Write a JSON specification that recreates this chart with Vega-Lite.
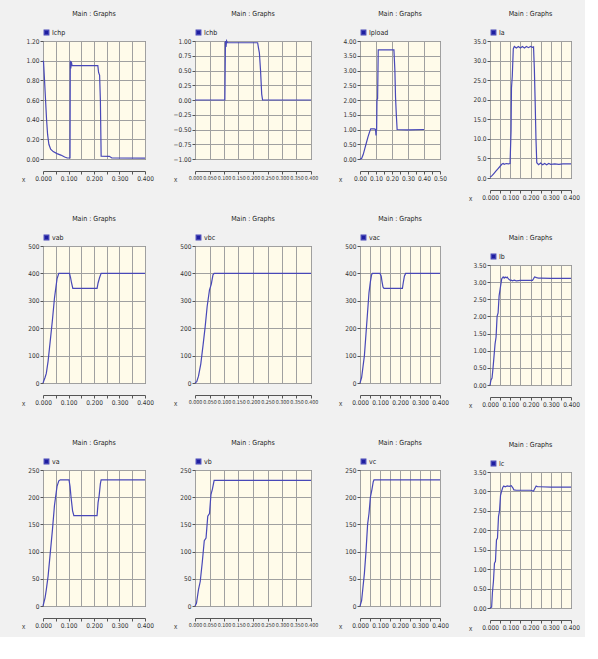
{
  "$schema": "https://vega.github.io/schema/vega-lite/v6.json",
  "background": "#f1f1f1",
  "padding": {"left": 20, "top": 9, "right": 5, "bottom": 5},
  "datasets": {
    "d11": [{"t":0,"v":1.0},{"t":0.002,"v":0.99},{"t":0.006,"v":0.8},{"t":0.010,"v":0.6},{"t":0.014,"v":0.4},{"t":0.018,"v":0.25},{"t":0.023,"v":0.15},{"t":0.03,"v":0.1},{"t":0.04,"v":0.075},{"t":0.055,"v":0.055},{"t":0.07,"v":0.04},{"t":0.085,"v":0.02},{"t":0.095,"v":0.01},{"t":0.106,"v":0.01},{"t":0.107,"v":1.0},{"t":0.109,"v":0.92},{"t":0.111,"v":0.99},{"t":0.114,"v":0.95},{"t":0.118,"v":0.95},{"t":0.215,"v":0.95},{"t":0.218,"v":0.88},{"t":0.222,"v":0.85},{"t":0.225,"v":0.6},{"t":0.228,"v":0.03},{"t":0.26,"v":0.027},{"t":0.27,"v":0.01},{"t":0.4,"v":0.008}],
    "d12": [{"t":0,"v":0},{"t":0.103,"v":0},{"t":0.105,"v":1.0},{"t":0.107,"v":0.9},{"t":0.109,"v":1.0},{"t":0.112,"v":0.97},{"t":0.216,"v":0.97},{"t":0.219,"v":0.88},{"t":0.222,"v":0.8},{"t":0.226,"v":0.5},{"t":0.230,"v":0.1},{"t":0.233,"v":0},{"t":0.4,"v":0}],
    "d13": [{"t":0,"v":0},{"t":0.01,"v":0.02},{"t":0.02,"v":0.15},{"t":0.03,"v":0.35},{"t":0.04,"v":0.55},{"t":0.05,"v":0.75},{"t":0.06,"v":0.92},{"t":0.067,"v":1.02},{"t":0.09,"v":1.02},{"t":0.097,"v":1.0},{"t":0.100,"v":0.8},{"t":0.102,"v":1.0},{"t":0.104,"v":1.0},{"t":0.106,"v":2.0},{"t":0.110,"v":2.05},{"t":0.114,"v":3.7},{"t":0.212,"v":3.7},{"t":0.218,"v":3.0},{"t":0.222,"v":2.1},{"t":0.227,"v":1.5},{"t":0.232,"v":1.0},{"t":0.3,"v":0.99},{"t":0.4,"v":1.0}],
    "d14": [{"t":0,"v":0.2},{"t":0.01,"v":0.6},{"t":0.02,"v":1.2},{"t":0.03,"v":1.8},{"t":0.04,"v":2.4},{"t":0.05,"v":3.0},{"t":0.058,"v":3.5},{"t":0.065,"v":3.7},{"t":0.07,"v":3.5},{"t":0.08,"v":3.7},{"t":0.09,"v":3.6},{"t":0.099,"v":3.7},{"t":0.104,"v":12},{"t":0.106,"v":23},{"t":0.110,"v":26},{"t":0.115,"v":33},{"t":0.12,"v":33.6},{"t":0.13,"v":33.2},{"t":0.14,"v":33.6},{"t":0.15,"v":33.2},{"t":0.16,"v":33.6},{"t":0.17,"v":33.2},{"t":0.18,"v":33.6},{"t":0.19,"v":33.3},{"t":0.2,"v":33.6},{"t":0.21,"v":33.4},{"t":0.215,"v":33.5},{"t":0.219,"v":28},{"t":0.223,"v":19.5},{"t":0.227,"v":10},{"t":0.231,"v":3.9},{"t":0.24,"v":3.4},{"t":0.25,"v":3.8},{"t":0.26,"v":3.4},{"t":0.27,"v":3.7},{"t":0.28,"v":3.4},{"t":0.29,"v":3.7},{"t":0.3,"v":3.5},{"t":0.32,"v":3.6},{"t":0.34,"v":3.5},{"t":0.36,"v":3.6},{"t":0.38,"v":3.6},{"t":0.4,"v":3.6}],
    "d21": [{"t":0,"v":0},{"t":0.008,"v":20},{"t":0.013,"v":35},{"t":0.02,"v":80},{"t":0.028,"v":150},{"t":0.037,"v":230},{"t":0.045,"v":310},{"t":0.055,"v":380},{"t":0.062,"v":400},{"t":0.104,"v":400},{"t":0.108,"v":385},{"t":0.112,"v":365},{"t":0.117,"v":345},{"t":0.212,"v":345},{"t":0.216,"v":365},{"t":0.222,"v":385},{"t":0.228,"v":400},{"t":0.4,"v":400}],
    "d22": [{"t":0,"v":0},{"t":0.006,"v":5},{"t":0.012,"v":25},{"t":0.02,"v":70},{"t":0.028,"v":140},{"t":0.035,"v":205},{"t":0.042,"v":280},{"t":0.05,"v":340},{"t":0.056,"v":360},{"t":0.062,"v":395},{"t":0.066,"v":400},{"t":0.4,"v":400}],
    "d23": [{"t":0,"v":0},{"t":0.008,"v":20},{"t":0.015,"v":60},{"t":0.022,"v":100},{"t":0.03,"v":180},{"t":0.038,"v":260},{"t":0.045,"v":330},{"t":0.052,"v":370},{"t":0.058,"v":395},{"t":0.062,"v":400},{"t":0.1,"v":400},{"t":0.106,"v":390},{"t":0.11,"v":370},{"t":0.115,"v":350},{"t":0.12,"v":345},{"t":0.212,"v":345},{"t":0.216,"v":365},{"t":0.222,"v":390},{"t":0.228,"v":400},{"t":0.4,"v":400}],
    "d24": [{"t":0,"v":0},{"t":0.005,"v":0.15},{"t":0.01,"v":0.2},{"t":0.015,"v":0.5},{"t":0.02,"v":0.85},{"t":0.025,"v":1.2},{"t":0.03,"v":1.4},{"t":0.035,"v":2.0},{"t":0.04,"v":2.1},{"t":0.045,"v":2.6},{"t":0.05,"v":2.8},{"t":0.058,"v":3.1},{"t":0.065,"v":3.15},{"t":0.07,"v":3.12},{"t":0.075,"v":3.15},{"t":0.08,"v":3.13},{"t":0.085,"v":3.15},{"t":0.09,"v":3.1},{"t":0.1,"v":3.05},{"t":0.105,"v":3.06},{"t":0.11,"v":3.04},{"t":0.12,"v":3.06},{"t":0.13,"v":3.04},{"t":0.15,"v":3.05},{"t":0.18,"v":3.05},{"t":0.21,"v":3.05},{"t":0.215,"v":3.1},{"t":0.22,"v":3.15},{"t":0.23,"v":3.13},{"t":0.24,"v":3.12},{"t":0.25,"v":3.12},{"t":0.3,"v":3.11},{"t":0.4,"v":3.11}],
    "d31": [{"t":0,"v":0},{"t":0.008,"v":15},{"t":0.013,"v":30},{"t":0.02,"v":55},{"t":0.028,"v":95},{"t":0.037,"v":140},{"t":0.045,"v":185},{"t":0.055,"v":220},{"t":0.062,"v":230},{"t":0.068,"v":232},{"t":0.102,"v":232},{"t":0.106,"v":220},{"t":0.11,"v":200},{"t":0.116,"v":175},{"t":0.121,"v":166},{"t":0.212,"v":166},{"t":0.216,"v":190},{"t":0.22,"v":202},{"t":0.225,"v":225},{"t":0.228,"v":232},{"t":0.4,"v":232}],
    "d32": [{"t":0,"v":0},{"t":0.005,"v":5},{"t":0.012,"v":30},{"t":0.018,"v":45},{"t":0.025,"v":80},{"t":0.032,"v":120},{"t":0.038,"v":125},{"t":0.044,"v":165},{"t":0.05,"v":170},{"t":0.055,"v":205},{"t":0.06,"v":215},{"t":0.066,"v":231},{"t":0.4,"v":231}],
    "d33": [{"t":0,"v":0},{"t":0.008,"v":10},{"t":0.015,"v":35},{"t":0.022,"v":60},{"t":0.03,"v":100},{"t":0.038,"v":150},{"t":0.045,"v":170},{"t":0.052,"v":200},{"t":0.06,"v":215},{"t":0.066,"v":228},{"t":0.07,"v":232},{"t":0.4,"v":232}],
    "d34": [{"t":0,"v":0},{"t":0.008,"v":0.02},{"t":0.012,"v":0.4},{"t":0.017,"v":0.69},{"t":0.022,"v":1.15},{"t":0.027,"v":1.2},{"t":0.032,"v":1.75},{"t":0.037,"v":1.8},{"t":0.042,"v":2.35},{"t":0.047,"v":2.5},{"t":0.052,"v":2.9},{"t":0.057,"v":3.0},{"t":0.063,"v":3.1},{"t":0.068,"v":3.14},{"t":0.075,"v":3.12},{"t":0.085,"v":3.14},{"t":0.095,"v":3.13},{"t":0.105,"v":3.15},{"t":0.112,"v":3.1},{"t":0.118,"v":3.04},{"t":0.13,"v":3.03},{"t":0.16,"v":3.03},{"t":0.2,"v":3.03},{"t":0.215,"v":3.01},{"t":0.222,"v":3.08},{"t":0.228,"v":3.14},{"t":0.235,"v":3.12},{"t":0.245,"v":3.12},{"t":0.3,"v":3.11},{"t":0.4,"v":3.11}]
  },
  "spacing": 18,
  "resolve": {"scale": {"color": "independent"}},
  "hconcat": [
    {
      "bounds": "flush", "spacing": 87,
      "resolve": {"scale": {"color": "independent"}},
      "vconcat": [
        {"width": 102, "height": 118, "title": "Main : Graphs", "data": {"name": "d11"}, "resolve": {"axis": {"x": "independent"}},
         "layer": [
          {"mark": {"type": "line", "strokeOpacity": 0},
           "encoding": {
             "x": {"field": "t", "type": "quantitative", "scale": {"domain": [0, 0.4], "nice": false, "zero": false}, "axis": {"orient": "bottom", "offset": 0, "title": null, "grid": true, "labels": false, "ticks": false, "domain": false, "values": [0,0.05,0.1,0.15,0.2,0.25,0.3,0.35,0.4]}},
             "y": {"field": "v", "type": "quantitative", "scale": {"domain": [0, 1.2], "nice": false, "zero": false}, "axis": {"grid": true, "values": [0,0.2,0.4,0.6,0.8,1.0,1.2], "format": ".2f"}}}},
          {"mark": {"type": "line"},
           "encoding": {
             "x": {"field": "t", "type": "quantitative", "scale": {"domain": [0, 0.4], "nice": false, "zero": false}, "axis": {"orient": "bottom", "title": "x", "grid": false, "values": [0,0.05,0.1,0.15,0.2,0.25,0.3,0.35,0.4], "labelExpr": "round(datum.value*100) % 10 == 0 ? format(datum.value, '.3f') : ''"}},
             "y": {"field": "v", "type": "quantitative", "scale": {"domain": [0, 1.2], "nice": false, "zero": false}, "axis": {"grid": true, "values": [0,0.2,0.4,0.6,0.8,1.0,1.2], "format": ".2f"}},
             "color": {"datum": "Ichp", "scale": {"range": ["#4848b8"]}}}}
         ]},
        {"width": 102, "height": 137, "title": "Main : Graphs", "data": {"name": "d21"}, "resolve": {"axis": {"x": "independent"}},
         "layer": [
          {"mark": {"type": "line", "strokeOpacity": 0},
           "encoding": {
             "x": {"field": "t", "type": "quantitative", "scale": {"domain": [0, 0.4], "nice": false, "zero": false}, "axis": {"orient": "bottom", "offset": 0, "title": null, "grid": true, "labels": false, "ticks": false, "domain": false, "values": [0,0.05,0.1,0.15,0.2,0.25,0.3,0.35,0.4]}},
             "y": {"field": "v", "type": "quantitative", "scale": {"domain": [0, 500], "nice": false, "zero": false}, "axis": {"grid": true, "values": [0,100,200,300,400,500], "format": "d"}}}},
          {"mark": {"type": "line"},
           "encoding": {
             "x": {"field": "t", "type": "quantitative", "scale": {"domain": [0, 0.4], "nice": false, "zero": false}, "axis": {"orient": "bottom", "title": "x", "grid": false, "values": [0,0.05,0.1,0.15,0.2,0.25,0.3,0.35,0.4], "labelExpr": "round(datum.value*100) % 10 == 0 ? format(datum.value, '.3f') : ''"}},
             "y": {"field": "v", "type": "quantitative", "scale": {"domain": [0, 500], "nice": false, "zero": false}, "axis": {"grid": true, "values": [0,100,200,300,400,500], "format": "d"}},
             "color": {"datum": "vab", "scale": {"range": ["#4848b8"]}}}}
         ]},
        {"width": 102, "height": 136, "title": "Main : Graphs", "data": {"name": "d31"}, "resolve": {"axis": {"x": "independent"}},
         "layer": [
          {"mark": {"type": "line", "strokeOpacity": 0},
           "encoding": {
             "x": {"field": "t", "type": "quantitative", "scale": {"domain": [0, 0.4], "nice": false, "zero": false}, "axis": {"orient": "bottom", "offset": 0, "title": null, "grid": true, "labels": false, "ticks": false, "domain": false, "values": [0,0.05,0.1,0.15,0.2,0.25,0.3,0.35,0.4]}},
             "y": {"field": "v", "type": "quantitative", "scale": {"domain": [0, 250], "nice": false, "zero": false}, "axis": {"grid": true, "values": [0,50,100,150,200,250], "format": "d"}}}},
          {"mark": {"type": "line"},
           "encoding": {
             "x": {"field": "t", "type": "quantitative", "scale": {"domain": [0, 0.4], "nice": false, "zero": false}, "axis": {"orient": "bottom", "title": "x", "grid": false, "values": [0,0.05,0.1,0.15,0.2,0.25,0.3,0.35,0.4], "labelExpr": "round(datum.value*100) % 10 == 0 ? format(datum.value, '.3f') : ''"}},
             "y": {"field": "v", "type": "quantitative", "scale": {"domain": [0, 250], "nice": false, "zero": false}, "axis": {"grid": true, "values": [0,50,100,150,200,250], "format": "d"}},
             "color": {"datum": "va", "scale": {"range": ["#4848b8"]}}}}
         ]}
      ]
    },
    {
      "bounds": "flush", "spacing": 87,
      "resolve": {"scale": {"color": "independent"}},
      "vconcat": [
        {"width": 116, "height": 118, "title": "Main : Graphs", "data": {"name": "d12"}, "resolve": {"axis": {"x": "independent"}},
         "layer": [
          {"mark": {"type": "line", "strokeOpacity": 0},
           "encoding": {
             "x": {"field": "t", "type": "quantitative", "scale": {"domain": [0, 0.4], "nice": false, "zero": false}, "axis": {"orient": "bottom", "offset": 0, "title": null, "grid": true, "labels": false, "ticks": false, "domain": false, "values": [0,0.05,0.1,0.15,0.2,0.25,0.3,0.35,0.4]}},
             "y": {"field": "v", "type": "quantitative", "scale": {"domain": [-1, 1], "nice": false, "zero": false}, "axis": {"grid": true, "values": [-1,-0.75,-0.5,-0.25,0,0.25,0.5,0.75,1], "format": ".2f"}}}},
          {"mark": {"type": "line"},
           "encoding": {
             "x": {"field": "t", "type": "quantitative", "scale": {"domain": [0, 0.4], "nice": false, "zero": false}, "axis": {"orient": "bottom", "title": "x", "grid": false, "values": [0,0.05,0.1,0.15,0.2,0.25,0.3,0.35,0.4], "format": ".3f", "labelFontSize": 5.3}},
             "y": {"field": "v", "type": "quantitative", "scale": {"domain": [-1, 1], "nice": false, "zero": false}, "axis": {"grid": true, "values": [-1,-0.75,-0.5,-0.25,0,0.25,0.5,0.75,1], "format": ".2f"}},
             "color": {"datum": "Ichb", "scale": {"range": ["#4848b8"]}}}}
         ]},
        {"width": 116, "height": 137, "title": "Main : Graphs", "data": {"name": "d22"}, "resolve": {"axis": {"x": "independent"}},
         "layer": [
          {"mark": {"type": "line", "strokeOpacity": 0},
           "encoding": {
             "x": {"field": "t", "type": "quantitative", "scale": {"domain": [0, 0.4], "nice": false, "zero": false}, "axis": {"orient": "bottom", "offset": 0, "title": null, "grid": true, "labels": false, "ticks": false, "domain": false, "values": [0,0.05,0.1,0.15,0.2,0.25,0.3,0.35,0.4]}},
             "y": {"field": "v", "type": "quantitative", "scale": {"domain": [0, 500], "nice": false, "zero": false}, "axis": {"grid": true, "values": [0,100,200,300,400,500], "format": "d"}}}},
          {"mark": {"type": "line"},
           "encoding": {
             "x": {"field": "t", "type": "quantitative", "scale": {"domain": [0, 0.4], "nice": false, "zero": false}, "axis": {"orient": "bottom", "title": "x", "grid": false, "values": [0,0.05,0.1,0.15,0.2,0.25,0.3,0.35,0.4], "format": ".3f", "labelFontSize": 5.3}},
             "y": {"field": "v", "type": "quantitative", "scale": {"domain": [0, 500], "nice": false, "zero": false}, "axis": {"grid": true, "values": [0,100,200,300,400,500], "format": "d"}},
             "color": {"datum": "vbc", "scale": {"range": ["#4848b8"]}}}}
         ]},
        {"width": 116, "height": 136, "title": "Main : Graphs", "data": {"name": "d32"}, "resolve": {"axis": {"x": "independent"}},
         "layer": [
          {"mark": {"type": "line", "strokeOpacity": 0},
           "encoding": {
             "x": {"field": "t", "type": "quantitative", "scale": {"domain": [0, 0.4], "nice": false, "zero": false}, "axis": {"orient": "bottom", "offset": 0, "title": null, "grid": true, "labels": false, "ticks": false, "domain": false, "values": [0,0.05,0.1,0.15,0.2,0.25,0.3,0.35,0.4]}},
             "y": {"field": "v", "type": "quantitative", "scale": {"domain": [0, 250], "nice": false, "zero": false}, "axis": {"grid": true, "values": [0,50,100,150,200,250], "format": "d"}}}},
          {"mark": {"type": "line"},
           "encoding": {
             "x": {"field": "t", "type": "quantitative", "scale": {"domain": [0, 0.4], "nice": false, "zero": false}, "axis": {"orient": "bottom", "title": "x", "grid": false, "values": [0,0.05,0.1,0.15,0.2,0.25,0.3,0.35,0.4], "format": ".3f", "labelFontSize": 5.3}},
             "y": {"field": "v", "type": "quantitative", "scale": {"domain": [0, 250], "nice": false, "zero": false}, "axis": {"grid": true, "values": [0,50,100,150,200,250], "format": "d"}},
             "color": {"datum": "vb", "scale": {"range": ["#4848b8"]}}}}
         ]}
      ]
    },
    {
      "bounds": "flush", "spacing": 87,
      "resolve": {"scale": {"color": "independent"}},
      "vconcat": [
        {"width": 80, "height": 118, "title": "Main : Graphs", "data": {"name": "d13"}, "resolve": {"axis": {"x": "independent"}},
         "layer": [
          {"mark": {"type": "line", "strokeOpacity": 0},
           "encoding": {
             "x": {"field": "t", "type": "quantitative", "scale": {"domain": [0, 0.5], "nice": false, "zero": false}, "axis": {"orient": "bottom", "offset": 0, "title": null, "grid": true, "labels": false, "ticks": false, "domain": false, "values": [0,0.1,0.2,0.3,0.4,0.5]}},
             "y": {"field": "v", "type": "quantitative", "scale": {"domain": [0, 4], "nice": false, "zero": false}, "axis": {"grid": true, "values": [0,0.5,1,1.5,2,2.5,3,3.5,4], "format": ".2f"}}}},
          {"mark": {"type": "line"},
           "encoding": {
             "x": {"field": "t", "type": "quantitative", "scale": {"domain": [0, 0.5], "nice": false, "zero": false}, "axis": {"orient": "bottom", "title": "x", "grid": false, "values": [0,0.05,0.1,0.15,0.2,0.25,0.3,0.35,0.4,0.45,0.5], "labelExpr": "round(datum.value*100) % 10 == 0 ? format(datum.value, '.2f') : ''"}},
             "y": {"field": "v", "type": "quantitative", "scale": {"domain": [0, 4], "nice": false, "zero": false}, "axis": {"grid": true, "values": [0,0.5,1,1.5,2,2.5,3,3.5,4], "format": ".2f"}},
             "color": {"datum": "Ipload", "scale": {"range": ["#4848b8"]}}}}
         ]},
        {"width": 80, "height": 137, "title": "Main : Graphs", "data": {"name": "d23"}, "resolve": {"axis": {"x": "independent"}},
         "layer": [
          {"mark": {"type": "line", "strokeOpacity": 0},
           "encoding": {
             "x": {"field": "t", "type": "quantitative", "scale": {"domain": [0, 0.4], "nice": false, "zero": false}, "axis": {"orient": "bottom", "offset": 0, "title": null, "grid": true, "labels": false, "ticks": false, "domain": false, "values": [0,0.05,0.1,0.15,0.2,0.25,0.3,0.35,0.4]}},
             "y": {"field": "v", "type": "quantitative", "scale": {"domain": [0, 500], "nice": false, "zero": false}, "axis": {"grid": true, "values": [0,100,200,300,400,500], "format": "d"}}}},
          {"mark": {"type": "line"},
           "encoding": {
             "x": {"field": "t", "type": "quantitative", "scale": {"domain": [0, 0.4], "nice": false, "zero": false}, "axis": {"orient": "bottom", "title": "x", "grid": false, "values": [0,0.05,0.1,0.15,0.2,0.25,0.3,0.35,0.4], "labelExpr": "round(datum.value*100) % 10 == 0 ? format(datum.value, '.3f') : ''"}},
             "y": {"field": "v", "type": "quantitative", "scale": {"domain": [0, 500], "nice": false, "zero": false}, "axis": {"grid": true, "values": [0,100,200,300,400,500], "format": "d"}},
             "color": {"datum": "vac", "scale": {"range": ["#4848b8"]}}}}
         ]},
        {"width": 80, "height": 136, "title": "Main : Graphs", "data": {"name": "d33"}, "resolve": {"axis": {"x": "independent"}},
         "layer": [
          {"mark": {"type": "line", "strokeOpacity": 0},
           "encoding": {
             "x": {"field": "t", "type": "quantitative", "scale": {"domain": [0, 0.4], "nice": false, "zero": false}, "axis": {"orient": "bottom", "offset": 0, "title": null, "grid": true, "labels": false, "ticks": false, "domain": false, "values": [0,0.05,0.1,0.15,0.2,0.25,0.3,0.35,0.4]}},
             "y": {"field": "v", "type": "quantitative", "scale": {"domain": [0, 250], "nice": false, "zero": false}, "axis": {"grid": true, "values": [0,50,100,150,200,250], "format": "d"}}}},
          {"mark": {"type": "line"},
           "encoding": {
             "x": {"field": "t", "type": "quantitative", "scale": {"domain": [0, 0.4], "nice": false, "zero": false}, "axis": {"orient": "bottom", "title": "x", "grid": false, "values": [0,0.05,0.1,0.15,0.2,0.25,0.3,0.35,0.4], "labelExpr": "round(datum.value*100) % 10 == 0 ? format(datum.value, '.3f') : ''"}},
             "y": {"field": "v", "type": "quantitative", "scale": {"domain": [0, 250], "nice": false, "zero": false}, "axis": {"grid": true, "values": [0,50,100,150,200,250], "format": "d"}},
             "color": {"datum": "vc", "scale": {"range": ["#4848b8"]}}}}
         ]}
      ]
    },
    {
      "bounds": "flush", "spacing": 87,
      "resolve": {"scale": {"color": "independent"}},
      "vconcat": [
        {"width": 81, "height": 137, "title": "Main : Graphs", "data": {"name": "d14"}, "resolve": {"axis": {"x": "independent"}},
         "layer": [
          {"mark": {"type": "line", "strokeOpacity": 0},
           "encoding": {
             "x": {"field": "t", "type": "quantitative", "scale": {"domain": [0, 0.4], "nice": false, "zero": false}, "axis": {"orient": "bottom", "offset": 0, "title": null, "grid": true, "labels": false, "ticks": false, "domain": false, "values": [0,0.05,0.1,0.15,0.2,0.25,0.3,0.35,0.4]}},
             "y": {"field": "v", "type": "quantitative", "scale": {"domain": [0, 35], "nice": false, "zero": false}, "axis": {"grid": true, "values": [0,5,10,15,20,25,30,35], "format": ".1f"}}}},
          {"mark": {"type": "line"},
           "encoding": {
             "x": {"field": "t", "type": "quantitative", "scale": {"domain": [0, 0.4], "nice": false, "zero": false}, "axis": {"orient": "bottom", "title": "x", "grid": false, "values": [0,0.05,0.1,0.15,0.2,0.25,0.3,0.35,0.4], "labelExpr": "round(datum.value*100) % 10 == 0 ? format(datum.value, '.3f') : ''"}},
             "y": {"field": "v", "type": "quantitative", "scale": {"domain": [0, 35], "nice": false, "zero": false}, "axis": {"grid": true, "values": [0,5,10,15,20,25,30,35], "format": ".1f"}},
             "color": {"datum": "Ia", "scale": {"range": ["#4848b8"]}}}}
         ]},
        {"width": 81, "height": 120, "title": "Main : Graphs", "data": {"name": "d24"}, "resolve": {"axis": {"x": "independent"}},
         "layer": [
          {"mark": {"type": "line", "strokeOpacity": 0},
           "encoding": {
             "x": {"field": "t", "type": "quantitative", "scale": {"domain": [0, 0.4], "nice": false, "zero": false}, "axis": {"orient": "bottom", "offset": 0, "title": null, "grid": true, "labels": false, "ticks": false, "domain": false, "values": [0,0.05,0.1,0.15,0.2,0.25,0.3,0.35,0.4]}},
             "y": {"field": "v", "type": "quantitative", "scale": {"domain": [0, 3.5], "nice": false, "zero": false}, "axis": {"grid": true, "values": [0,0.5,1,1.5,2,2.5,3,3.5], "format": ".2f"}}}},
          {"mark": {"type": "line"},
           "encoding": {
             "x": {"field": "t", "type": "quantitative", "scale": {"domain": [0, 0.4], "nice": false, "zero": false}, "axis": {"orient": "bottom", "title": "x", "grid": false, "values": [0,0.05,0.1,0.15,0.2,0.25,0.3,0.35,0.4], "labelExpr": "round(datum.value*100) % 10 == 0 ? format(datum.value, '.3f') : ''"}},
             "y": {"field": "v", "type": "quantitative", "scale": {"domain": [0, 3.5], "nice": false, "zero": false}, "axis": {"grid": true, "values": [0,0.5,1,1.5,2,2.5,3,3.5], "format": ".2f"}},
             "color": {"datum": "Ib", "scale": {"range": ["#4848b8"]}}}}
         ]},
        {"width": 81, "height": 136, "title": "Main : Graphs", "data": {"name": "d34"}, "resolve": {"axis": {"x": "independent"}},
         "layer": [
          {"mark": {"type": "line", "strokeOpacity": 0},
           "encoding": {
             "x": {"field": "t", "type": "quantitative", "scale": {"domain": [0, 0.4], "nice": false, "zero": false}, "axis": {"orient": "bottom", "offset": 0, "title": null, "grid": true, "labels": false, "ticks": false, "domain": false, "values": [0,0.05,0.1,0.15,0.2,0.25,0.3,0.35,0.4]}},
             "y": {"field": "v", "type": "quantitative", "scale": {"domain": [0, 3.5], "nice": false, "zero": false}, "axis": {"grid": true, "values": [0,0.5,1,1.5,2,2.5,3,3.5], "format": ".2f"}}}},
          {"mark": {"type": "line"},
           "encoding": {
             "x": {"field": "t", "type": "quantitative", "scale": {"domain": [0, 0.4], "nice": false, "zero": false}, "axis": {"orient": "bottom", "title": "x", "grid": false, "values": [0,0.05,0.1,0.15,0.2,0.25,0.3,0.35,0.4], "labelExpr": "round(datum.value*100) % 10 == 0 ? format(datum.value, '.3f') : ''"}},
             "y": {"field": "v", "type": "quantitative", "scale": {"domain": [0, 3.5], "nice": false, "zero": false}, "axis": {"grid": true, "values": [0,0.5,1,1.5,2,2.5,3,3.5], "format": ".2f"}},
             "color": {"datum": "Ic", "scale": {"range": ["#4848b8"]}}}}
         ]}
      ]
    }
  ],
  "config": {
    "font": "Liberation Sans Narrow, DejaVu Sans Condensed, Liberation Sans, sans-serif",
    "view": {"fill": "#fffbea", "stroke": "#555555", "strokeWidth": 1},
    "line": {"strokeWidth": 1.2},
    "axis": {
      "labelFont": "Liberation Sans Narrow, DejaVu Sans Condensed, Liberation Sans, sans-serif",
      "labelFontSize": 6.5, "labelColor": "#333333", "labelPadding": 1,
      "gridColor": "#a0a0a0", "gridOpacity": 1, "gridWidth": 1,
      "tickColor": "#555555", "tickSize": 3, "domainColor": "#555555",
      "labelOverlap": false, "labelFlush": false
    },
    "axisX": {"offset": 12, "titleFont": "Liberation Sans, sans-serif", "titleFontSize": 6.5, "titleFontWeight": "normal", "titleColor": "#333333", "titleX": -20, "titleY": 8, "titleAnchor": "start", "titleAlign": "center", "titleBaseline": "middle"},
    "axisY": {"domain": false, "title": null},
    "title": {"fontSize": 7, "fontWeight": "normal", "color": "#222222", "offset": 12, "anchor": "middle"},
    "legend": {"orient": "top", "title": null, "offset": 3, "padding": 0, "symbolType": "square", "symbolSize": 22, "symbolFillColor": "#1e1ea0", "symbolStrokeColor": "#1e1ea0", "labelFontSize": 7, "labelColor": "#222222", "labelOffset": 2}
  }
}
